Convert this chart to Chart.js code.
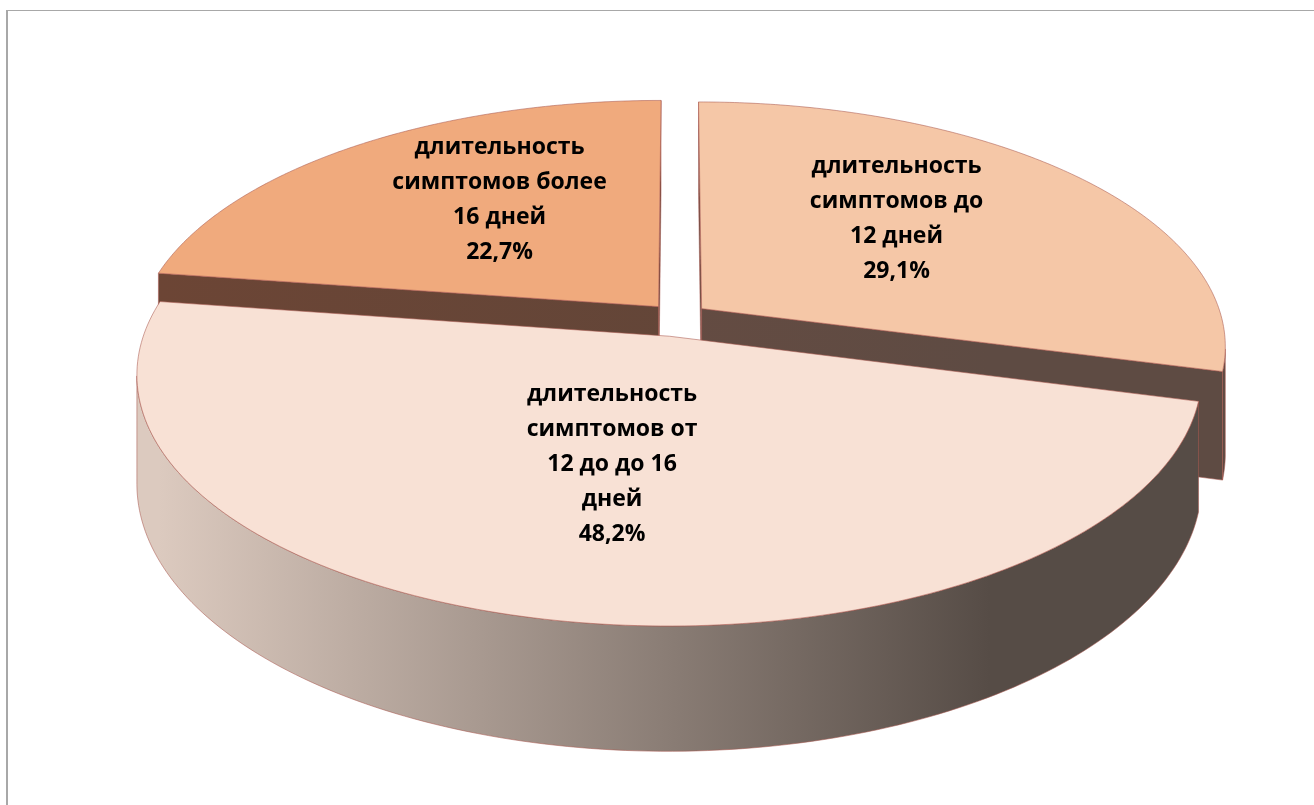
<!DOCTYPE html>
<html>
<head>
<meta charset="utf-8">
<script src="https://cdn.jsdelivr.net/npm/chart.js@4.4.1/dist/chart.umd.min.js"></script>
<style>
  body { margin: 0; background: #fff; }
  #wrap { position: relative; width: 1314px; height: 805px; overflow: hidden; }
  #frame { position: absolute; left: 6px; top: 10px; width: 1400px; height: 900px;
           border-left: 2px solid #a8a8a8; border-top: 1px solid #a8a8a8; }
  #box { position: absolute; left: 0; top: 0; width: 1314px; height: 805px; }
</style>
</head>
<body>
<div id="wrap">
  <div id="frame"></div>
  <div id="box"><canvas id="symptomsChart"></canvas></div>
</div>
<script>
// --- DATA ---
const sliceLabels = [
    'длительность симптомов до 12 дней',
    'длительность симптомов от 12 до до 16 дней',
    'длительность симптомов более 16 дней'
];
const labelLines = [
    ['длительность', 'симптомов до', '12 дней'],
    ['длительность', 'симптомов от', '12 до до 16', 'дней'],
    ['длительность', 'симптомов более', '16 дней']
];
const shares = [29.1, 48.2, 22.7];
const explode = [30, 42, 30];

// face colours and wall shading (light -> dark, left to right)
const faceColors = ['#F5C7A7', '#F8E1D5', '#F0AA7D'];
const wallColors = [
    ['#6E4C40', '#5E4B43'],
    ['#DCCABF', '#564C46'],
    ['#6C4535', '#5E463A']
];

// --- 3D pie look: perspective tilt + side walls ---
const tilt = { depth: 105, persp: 0.15 };
const labelSpread = 1.08, labelLift = 14;

const pie3d = {
    id: 'pie3d',
    beforeDatasetsDraw(chart) {
        const ctx = chart.ctx;
        const area = chart.chartArea;
        const rx = area.width / 2, ry = area.height / 2;
        const arcs = chart.getDatasetMeta(0).data;
        const camZ = 1 / tilt.persp;

        const slices = arcs.map((arc, i) => {
            const mid = (arc.startAngle + arc.endAngle) / 2;
            const e = (arc.options.offset || 0) / rx;
            const ox = e * Math.cos(mid), oz = e * Math.sin(mid);
            const pt = (r, a, drop) => {
                const X = ox + r * Math.cos(a), Z = oz + r * Math.sin(a);
                const s = 1 / (1 - tilt.persp * Z);
                return [arc.x + rx * X * s, arc.y + ry * Z * s + drop * tilt.depth * s];
            };
            return { arc, i, ox, oz, pt };
        });

        const poly = (pts, fill) => {
            ctx.beginPath();
            pts.forEach((p, k) => k ? ctx.lineTo(p[0], p[1]) : ctx.moveTo(p[0], p[1]));
            ctx.closePath();
            ctx.fillStyle = fill;
            ctx.fill();
            ctx.lineWidth = 1;
            ctx.strokeStyle = 'rgba(170, 90, 80, 0.55)';
            ctx.stroke();
        };

        const wallFill = (i) => {
            const g = ctx.createLinearGradient(area.left, 0, area.right, 0);
            g.addColorStop(0, wallColors[i][0]);
            g.addColorStop(0.8, wallColors[i][1]);
            g.addColorStop(1, wallColors[i][1]);
            return g;
        };

        // back slices first
        slices.slice().sort((a, b) => a.oz - b.oz).forEach(sl => {
            const { arc, i, ox, oz, pt } = sl;
            const a0 = arc.startAngle, a1 = arc.endAngle;
            const fill = wallFill(i);

            // radial cut walls, only when turned towards the viewer
            const radial = [
                [a0, Math.sin(a0), -Math.cos(a0)],
                [a1, -Math.sin(a1), Math.cos(a1)]
            ];
            radial.forEach(([a, nx, nz]) => {
                const mx = ox + 0.5 * Math.cos(a), mz = oz + 0.5 * Math.sin(a);
                if (nx * (0 - mx) + nz * (camZ - mz) > 0) {
                    poly([pt(0, a, 0), pt(1, a, 0), pt(1, a, 1), pt(0, a, 1)], fill);
                }
            });

            // outer curved wall, split into visible runs
            const steps = 160;
            let run = [];
            const flush = () => {
                if (run.length > 1) {
                    const top = run.map(a => pt(1, a, 0));
                    const bottom = run.map(a => pt(1, a, 1)).reverse();
                    poly(top.concat(bottom), fill);
                }
                run = [];
            };
            for (let k = 0; k <= steps; k++) {
                const a = a0 + (a1 - a0) * k / steps;
                const px = ox + Math.cos(a), pz = oz + Math.sin(a);
                const vis = Math.cos(a) * (0 - px) + Math.sin(a) * (camZ - pz) > 0;
                if (vis) run.push(a); else flush();
            }
            flush();

            // top face
            const face = [pt(0, a0, 0)];
            for (let k = 0; k <= steps; k++) face.push(pt(1, a0 + (a1 - a0) * k / steps, 0));
            poly(face, arc.options.backgroundColor);

            const [lx, ly] = pt(0.5, (a0 + a1) / 2, 0);
            sl.labelAt = [lx, arc.y + (ly - arc.y) * labelSpread - labelLift];
        });

        chart.$labelSpots = slices.map(s => s.labelAt);
        return false;
    },
    afterDraw(chart) {
        const spots = chart.$labelSpots;
        if (!spots) return;
        const ctx = chart.ctx;
        ctx.save();
        ctx.fillStyle = '#000';
        ctx.font = 'bold 23px "Open Sans", sans-serif';
        ctx.textAlign = 'center';
        ctx.textBaseline = 'middle';
        const lineH = 35;
        chart.data.datasets[0].data.forEach((v, i) => {
            const lines = labelLines[i].concat([v.toFixed(1).replace('.', ',') + '%']);
            const [x, y] = spots[i];
            const y0 = y - (lines.length - 1) * lineH / 2;
            lines.forEach((t, k) => ctx.fillText(t, x, y0 + k * lineH));
        });
        ctx.restore();
    }
};

new Chart(document.getElementById('symptomsChart'), {
    type: 'pie',
    data: {
        labels: sliceLabels,
        datasets: [{
            data: shares,
            backgroundColor: faceColors,
            offset: explode,
            borderWidth: 0
        }]
    },
    options: {
        responsive: true,
        maintainAspectRatio: false,
        animation: false,
        layout: { padding: { left: 158, right: 116, top: 77, bottom: 248 } },
        plugins: {
            legend: { display: false },
            tooltip: { enabled: false }
        }
    },
    plugins: [pie3d]
});
</script>
</body>
</html>
